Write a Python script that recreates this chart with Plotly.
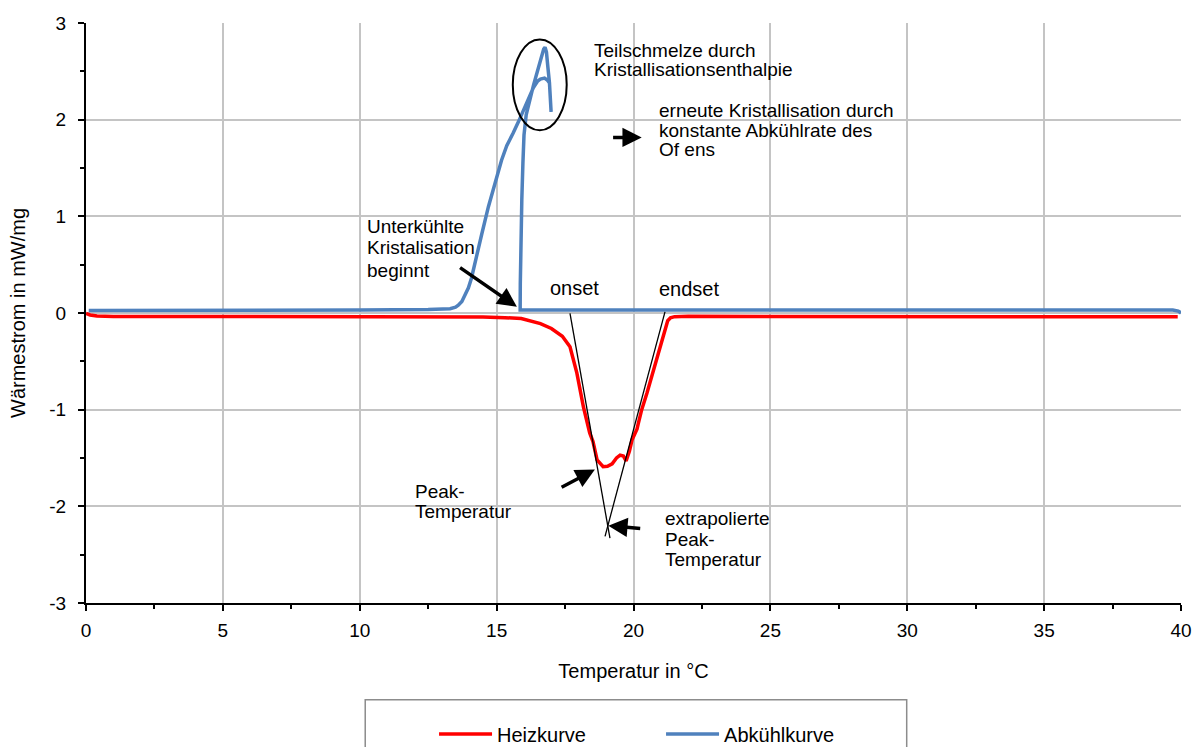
import plotly.graph_objects as go

# Heating run (Heizkurve): temperature in °C, heat flow in mW/mg
heat_T = [0.0, 0.15, 0.4, 1.0, 5.0, 10.0, 13.0, 14.5, 15.3, 15.9, 16.6, 17.0, 17.4,
          17.68, 17.93, 18.17, 18.4, 18.52, 18.67, 18.89, 19.05, 19.22, 19.38, 19.51,
          19.63, 19.73, 19.85, 19.95, 20.05, 20.13, 20.17, 20.3, 20.49, 20.86, 21.0,
          21.15, 21.25, 21.35, 21.5, 22.0, 30.0, 39.88]
heat_Q = [-0.005, -0.02, -0.032, -0.035, -0.035, -0.035, -0.037, -0.042, -0.048,
          -0.058, -0.11, -0.16, -0.24, -0.35, -0.62, -0.97, -1.24, -1.33, -1.52,
          -1.59, -1.585, -1.56, -1.5, -1.47, -1.48, -1.53, -1.43, -1.31, -1.25,
          -1.2, -1.15, -1.0, -0.83, -0.456, -0.31, -0.16, -0.08, -0.05, -0.038,
          -0.034, -0.037, -0.04]

# Cooling run (Abkühlkurve), in recording order from 40 °C downwards
cool_T = [40.0, 39.9, 39.7, 35.0, 30.0, 25.0, 20.0, 17.0, 15.86, 15.865, 15.88,
          15.92, 15.96, 16.0, 16.08, 16.22, 16.35, 16.47, 16.57, 16.65, 16.72, 16.77,
          16.82, 16.87, 16.93, 16.99, 16.93, 16.85, 16.75, 16.6, 16.5, 16.34, 16.22,
          16.0, 15.8, 15.6, 15.37, 15.18, 15.0, 14.85, 14.7, 14.46, 14.22, 14.08,
          13.97, 13.85, 13.73, 13.6, 13.5, 13.3, 12.5, 10.0, 5.0, 1.0, 0.1]
cool_Q = [0.0, 0.02, 0.03, 0.03, 0.03, 0.03, 0.03, 0.03, 0.03, 0.3, 0.65, 1.17,
          1.55, 1.84, 2.05, 2.22, 2.36, 2.48, 2.59, 2.67, 2.73, 2.75, 2.7, 2.55,
          2.38, 2.08, 2.38, 2.41, 2.43, 2.42, 2.4, 2.33, 2.25, 2.1, 1.98, 1.86,
          1.73, 1.58, 1.41, 1.26, 1.1, 0.82, 0.51, 0.36, 0.26, 0.18, 0.12, 0.08,
          0.06, 0.045, 0.035, 0.03, 0.03, 0.028, 0.025]

# Tangents used for onset / endset / extrapolated peak temperature
onset_T = [17.68, 19.14]
onset_Q = [-0.004, -2.33]
endset_T = [21.15, 18.96]
endset_Q = [0.012, -2.31]

x_ticks = [0, 5, 10, 15, 20, 25, 30, 35, 40]
y_ticks = [-3, -2, -1, 0, 1, 2, 3]

FONT = "Liberation Sans, Arial, sans-serif"
RED = "#FF0000"
BLUE = "#4F81BD"

fig = go.Figure()

fig.add_trace(go.Scatter(x=heat_T, y=heat_Q, mode="lines", name="Heizkurve",
                         line=dict(color=RED, width=3.5)))
fig.add_trace(go.Scatter(x=cool_T, y=cool_Q, mode="lines", name="Abkühlkurve",
                         line=dict(color=BLUE, width=3.5)))
fig.add_trace(go.Scatter(x=onset_T, y=onset_Q, mode="lines", showlegend=False,
                         line=dict(color="black", width=1.3), hoverinfo="skip"))
fig.add_trace(go.Scatter(x=endset_T, y=endset_Q, mode="lines", showlegend=False,
                         line=dict(color="black", width=1.3), hoverinfo="skip"))

# ellipse around the partial melting spike
fig.add_shape(type="circle", xref="x", yref="y", x0=15.59, x1=17.56, y0=1.89, y1=2.83,
              line=dict(color="black", width=2))

# legend frame
fig.add_shape(type="rect", xref="paper", yref="paper", x0=0.255, x1=0.7495,
              y0=-0.30, y1=-0.167, line=dict(color="#8C8C8C", width=1.5),
              fillcolor="rgba(0,0,0,0)")

annotations = []


def label(x, y, text, size=19, xanchor="left"):
    annotations.append(dict(x=x, y=y, xref="x", yref="y", text=text, showarrow=False,
                            xanchor=xanchor, yanchor="middle",
                            font=dict(family=FONT, size=size, color="black")))


def arrow(x_tip, y_tip, x_tail, y_tail):
    annotations.append(dict(x=x_tip, y=y_tip, ax=x_tail, ay=y_tail, xref="x", yref="y",
                            axref="x", ayref="y", text="", showarrow=True,
                            arrowhead=2, arrowsize=1.1, arrowwidth=3.5,
                            arrowcolor="black", standoff=0))


label(18.47, 2.72, "Teilschmelze durch")
label(18.47, 2.52, "Kristallisationsenthalpie")
label(20.85, 2.098, "erneute Kristallisation durch")
label(20.85, 1.892, "konstante Abkühlrate des")
label(20.85, 1.692, "Of ens")
label(10.2, 0.891, "Unterkühlte")
label(10.2, 0.674, "Kristalisation")
label(10.2, 0.444, "beginnt")
label(17.83, 0.254, "onset", size=20, xanchor="center")
label(22.03, 0.247, "endset", size=20, xanchor="center")
label(11.96, -1.849, "Peak-")
label(11.96, -2.056, "Temperatur")
label(21.09, -2.124, "extrapolierte")
label(21.09, -2.348, "Peak-")
label(21.09, -2.555, "Temperatur")

arrow(15.74, 0.064, 13.61, 0.48)
arrow(20.30, 1.816, 19.20, 1.816)
arrow(18.59, -1.62, 17.32, -1.81)
arrow(19.08, -2.20, 20.30, -2.23)

fig.update_layout(
    width=1200, height=747,
    margin=dict(l=85.5, r=18.5, t=22.7, b=144, pad=0),
    paper_bgcolor="white", plot_bgcolor="white",
    font=dict(family=FONT, size=19, color="black"),
    annotations=annotations,
    showlegend=True,
    legend=dict(orientation="h", xref="container", yref="container",
                x=0.3617, xanchor="left", y=0.0174, yanchor="middle",
                bgcolor="rgba(0,0,0,0)", borderwidth=0, itemwidth=53,
                entrywidth=159, font=dict(family=FONT, size=20, color="black")),
)

fig.update_xaxes(
    range=[0, 40], tickvals=x_ticks, ticktext=[str(v) for v in x_ticks],
    automargin=False,
    showgrid=True, gridcolor="#C4C4C4", gridwidth=1.5, zeroline=False,
    showline=True, linecolor="black", linewidth=2,
    ticks="outside", ticklen=6, tickwidth=1.5, tickcolor="black",
    minor=dict(dtick=2.5, tick0=0, ticks="outside", ticklen=4, tickwidth=1.5,
               tickcolor="black", showgrid=False),
    tickfont=dict(family=FONT, size=19), ticklabelstandoff=3,
    title=dict(text="Temperatur in °C", font=dict(family=FONT, size=20), standoff=24),
)
fig.update_yaxes(
    range=[-3, 3], tickvals=y_ticks, ticktext=[str(v) for v in y_ticks],
    automargin=False,
    showgrid=True, gridcolor="#C4C4C4", gridwidth=1.5, zeroline=False,
    showline=True, linecolor="black", linewidth=2,
    ticks="outside", ticklen=6, tickwidth=1.5, tickcolor="black",
    minor=dict(dtick=0.5, tick0=0, ticks="outside", ticklen=4, tickwidth=1.5,
               tickcolor="black", showgrid=False),
    tickfont=dict(family=FONT, size=19), ticklabelstandoff=8,
    title=dict(text="Wärmestrom in mW/mg", font=dict(family=FONT, size=20), standoff=18),
)

fig.write_html("out.html")
